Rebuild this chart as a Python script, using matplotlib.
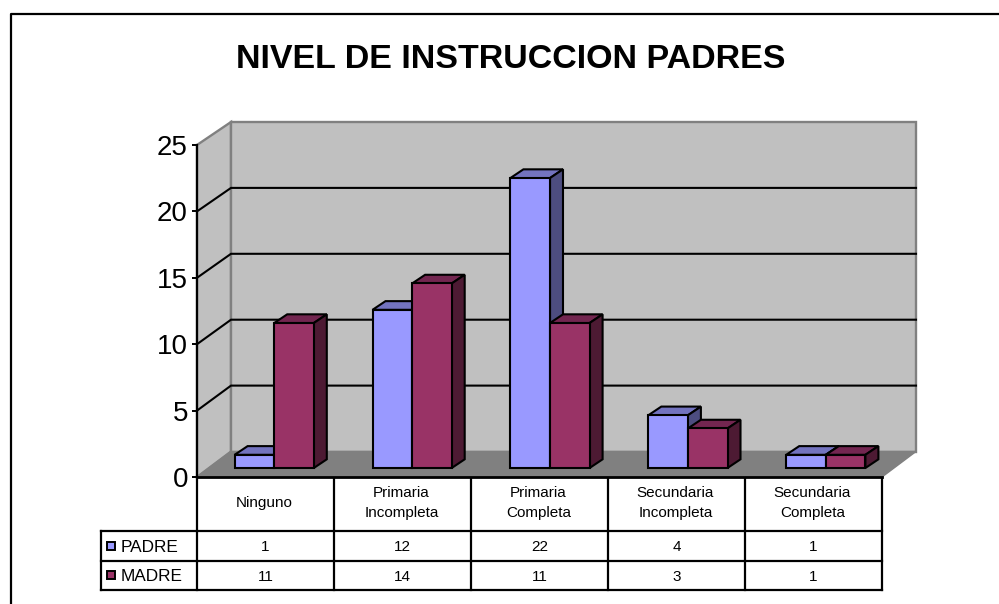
import matplotlib
matplotlib.use('Agg')
import matplotlib.pyplot as plt
from matplotlib.patches import Polygon, Rectangle

plt.rcParams['font.family'] = ['Liberation Sans', 'DejaVu Sans']

title = 'NIVEL DE INSTRUCCION PADRES'
categories = ['Ninguno', 'Primaria\nIncompleta', 'Primaria\nCompleta',
              'Secundaria\nIncompleta', 'Secundaria\nCompleta']
padre = [1, 12, 22, 4, 1]
madre = [11, 14, 11, 3, 1]
yticks = [0, 5, 10, 15, 20, 25]

W, H = 999, 604
fig = plt.figure(figsize=(W / 100, H / 100), dpi=100)

# overlay in pixels for the frame, title and the data table
page = fig.add_axes([0, 0, 1, 1])
page.set_xlim(0, W)
page.set_ylim(H, 0)
page.axis('off')

# front plane of the chart
left, right, bottom, top = 197, 882, 477, 145
ax = fig.add_axes([left / W, 1 - bottom / H, (right - left) / W, (bottom - top) / H])
ax.set_xlim(0, 5)
ax.set_ylim(0, 25)
ax.patch.set_visible(False)
for s in ax.spines.values():
    s.set_visible(False)
ax.set_xticks([])
ax.set_yticks(yticks)
ax.tick_params(axis='y', labelsize=20, length=3.5, width=1.4, pad=3)

sx = (right - left) / 5
sy = (bottom - top) / 25
wall_dx = 34 / sx
wall_dy = 25.5 / sy
depth_scale = 13.18 / sy  # things further back are drawn a bit smaller

GRAY = '#C0C0C0'
DARK = '#808080'


def poly(pts, fc, ec, lw, z):
    ax.add_patch(Polygon(pts, closed=True, fc=fc, ec=ec, lw=lw, zorder=z,
                         clip_on=False, joinstyle='miter'))


def back_y(v):
    return v * depth_scale + wall_dy


# walls and floor
poly([(0, 0), (wall_dx, back_y(0)), (wall_dx, back_y(25)), (0, 25)], GRAY, DARK, 1.7, 1)
poly([(wall_dx, back_y(0)), (5 + wall_dx, back_y(0)), (5 + wall_dx, back_y(25)), (wall_dx, back_y(25))],
     GRAY, DARK, 1.7, 1)
poly([(0, 0), (5, 0), (5 + wall_dx, back_y(0)), (wall_dx, back_y(0))], DARK, DARK, 1, 1)

# gridlines run along the side wall and then the back wall
for v in yticks[1:-1]:
    ax.plot([0, wall_dx, 5 + wall_dx], [v, back_y(v), back_y(v)], color='black', lw=1.5,
            zorder=2, clip_on=False, solid_joinstyle='miter')

ax.plot([0, 0], [0, 25], color='black', lw=1.6, zorder=3, clip_on=False)
ax.plot([0, 5], [0, 0], color='black', lw=2, zorder=3, clip_on=False)

# bars
bar_w = 39.6 / sx
step = 137.9 / sx
off_x = 37.6 / sx
base = 9 / sy
depth_x = 13 / sx
depth_y = 8.7 / sy
styles = [(padre, '#9999FF', '#7373BF', '#4D4D80'), (madre, '#993366', '#732650', '#4D1A33')]
z = 4
for i in range(len(categories)):
    x0 = i * step + off_x
    for vals, front, toptone, side in styles:
        y1 = vals[i] * depth_scale + base
        poly([(x0, y1), (x0 + depth_x, y1 + depth_y), (x0 + bar_w + depth_x, y1 + depth_y), (x0 + bar_w, y1)],
             toptone, 'black', 1.5, z)
        poly([(x0 + bar_w, base), (x0 + bar_w + depth_x, base + depth_y), (x0 + bar_w + depth_x, y1 + depth_y),
              (x0 + bar_w, y1)], side, 'black', 1.5, z)
        poly([(x0, base), (x0 + bar_w, base), (x0 + bar_w, y1), (x0, y1)], front, 'black', 1.5, z)
        z += 1
        x0 += bar_w

# outer frame, open on the right and bottom
page.plot([10.5, 10.5, 998], [604, 13.5, 13.5], color='black', lw=1.6)

page.text(511, 59.5, title, ha='center', va='center', fontsize=24.5, fontweight='bold')

# data table
cols = [left + (right - left) * k / 5 for k in range(6)]
rows = [477, 530.5, 561, 589.5]
lw = 1.6
for x in cols:
    page.plot([x, x], [rows[0], rows[3]], color='black', lw=lw)
page.plot([101, right], [rows[1], rows[1]], color='black', lw=lw)
page.plot([101, right], [rows[2], rows[2]], color='black', lw=lw)
page.plot([101, right], [rows[3], rows[3]], color='black', lw=lw)
page.plot([101, 101], [rows[1], rows[3]], color='black', lw=lw)

for i, c in enumerate(categories):
    xc = (cols[i] + cols[i + 1]) / 2
    page.text(xc - 1, (rows[0] + rows[1]) / 2 - 1, c, ha='center', va='center', fontsize=11, linespacing=1.55)
    page.text(xc, (rows[1] + rows[2]) / 2 + 1.5, str(padre[i]), ha='center', va='center', fontsize=11)
    page.text(xc, (rows[2] + rows[3]) / 2 + 1.5, str(madre[i]), ha='center', va='center', fontsize=11)

names = ['PADRE', 'MADRE']
keys = ['#9999FF', '#993366']
for r in range(2):
    yc = (rows[r + 1] + rows[r + 2]) / 2
    page.add_patch(Rectangle((106.5, yc - 4), 8, 8, fc=keys[r], ec='black', lw=1.4))
    page.text(121, yc + 1.5, names[r], ha='left', va='center', fontsize=12.4)

fig.savefig('out.png', dpi=100)
